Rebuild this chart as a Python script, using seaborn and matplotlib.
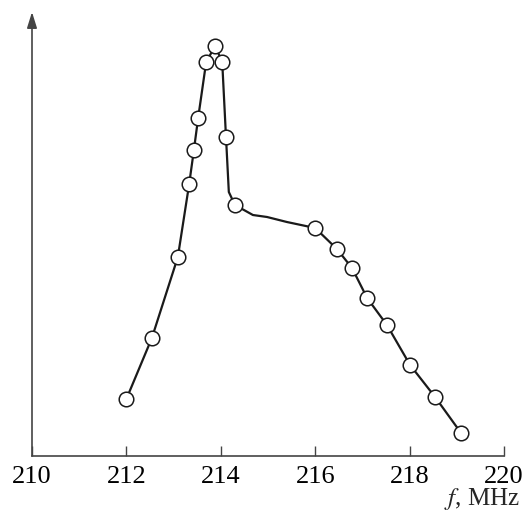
import matplotlib
matplotlib.use("Agg")
import matplotlib.pyplot as plt
import seaborn as sns
import pandas as pd

# measured points (frequency in MHz, response in arbitrary units)
freq = [212.0, 212.54, 213.09, 213.33, 213.43, 213.52, 213.69, 213.88, 214.03,
        214.11, 214.30, 216.0, 216.46, 216.78, 217.10, 217.52, 218.01, 218.54, 219.09]
resp = [57, 118, 199, 272, 306, 338, 394, 410, 394,
        319, 251, 228, 207, 188, 158, 131, 91, 59, 23]

# hand-drawn curve through the points
curve_f = [212.0, 212.54, 213.09, 213.33, 213.43, 213.52, 213.69, 213.88, 214.03,
           214.11, 214.17, 214.30, 214.68, 214.98, 215.40, 216.0, 216.46, 216.78,
           217.10, 217.52, 218.01, 218.54, 219.09]
curve_r = [57, 118, 199, 272, 306, 338, 394, 410, 394,
           319, 264, 251, 241, 239, 234, 228, 207, 188,
           158, 131, 91, 59, 23]

xticks = [210, 212, 214, 216, 218, 220]
xlabel = "$f$, MHz"

sns.set_theme(style="white")
plt.rcParams["font.family"] = ["Liberation Serif", "DejaVu Serif"]
plt.rcParams["mathtext.fontset"] = "stix"

fig = plt.figure(figsize=(5.25, 5.14), dpi=100)
ax = fig.add_axes([32 / 525, 1 - 456 / 514, (504 - 32) / 525, (456 - 12) / 514])

pts = pd.DataFrame({"f": freq, "r": resp})
crv = pd.DataFrame({"f": curve_f, "r": curve_r})

sns.lineplot(data=crv, x="f", y="r", ax=ax, color="#1a1a1a", lw=1.6, sort=False,
             estimator=None, zorder=2)
sns.scatterplot(data=pts, x="f", y="r", ax=ax, s=110, facecolor="white",
                edgecolor="#1a1a1a", linewidth=1.1, zorder=3, clip_on=False)

ax.set_xlim(210, 220)
ax.set_ylim(0, 444)
ax.set_xticks(xticks)
ax.set_xticklabels([str(t) for t in xticks])
ax.set_yticks([])
ax.set_xlabel("")
ax.set_ylabel("")

for s in ["top", "right", "left"]:
    ax.spines[s].set_visible(False)
ax.spines["bottom"].set_color("#444444")
ax.spines["bottom"].set_linewidth(1.2)

ax.tick_params(axis="x", direction="in", length=7, width=1.0, color="#444444",
               labelsize=19, pad=7, labelcolor="black", bottom=True)

ax.annotate("", xy=(0, 1.0), xytext=(0, 0), xycoords="axes fraction",
            textcoords="axes fraction",
            arrowprops=dict(arrowstyle="-|>,head_length=0.8,head_width=0.25",
                            color="#444444", lw=1.2, shrinkA=0, shrinkB=0))

fig.text(520 / 525, 1 - 505 / 514, xlabel, ha="right", va="baseline", fontsize=18)

fig.savefig("out.png", dpi=100, facecolor="white")
